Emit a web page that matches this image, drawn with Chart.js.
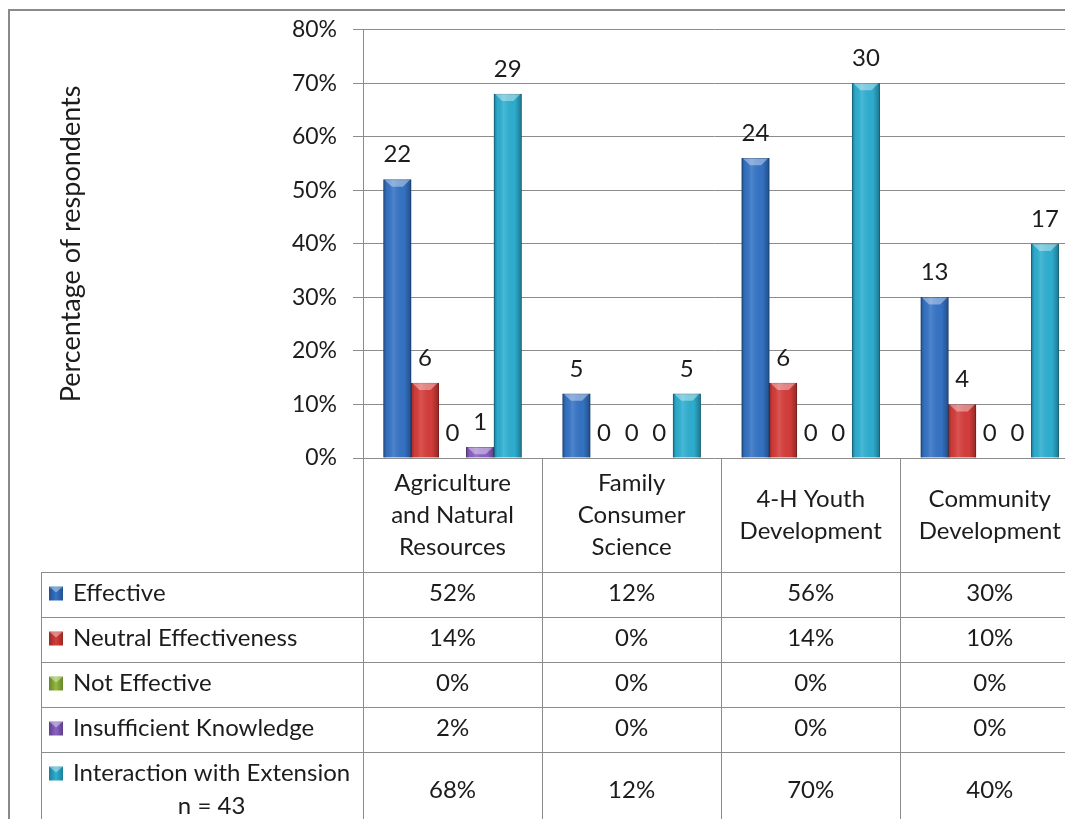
<!DOCTYPE html>
<html>
<head>
<meta charset="utf-8">
<script src="https://cdn.jsdelivr.net/npm/chart.js@4.4.1/dist/chart.umd.min.js"></script>
<style>
    html, body { margin: 0; padding: 0; background: #fff; overflow: hidden; }
    #graf1 { display: block; }
</style>
</head>
<body>
<canvas id="graf1" width="1065" height="819"></canvas>
<script>
// program areas (multi-line labels for the table header)
var categories = [
    ['Agriculture', 'and Natural', 'Resources'],
    ['Family', 'Consumer', 'Science'],
    ['4-H Youth', 'Development'],
    ['Community', 'Development']
];

// percentage of respondents
var effective     = [52, 12, 56, 30];
var neutral       = [14, 0, 14, 10];
var not_effective = [0, 0, 0, 0];
var insufficient  = [2, 0, 0, 0];
var interaction   = [68, 12, 70, 40];

// number of respondents, shown above the bars
var effective_n     = [22, 5, 24, 13];
var neutral_n       = [6, 0, 6, 4];
var not_effective_n = [0, 0, 0, 0];
var insufficient_n  = [1, 0, 0, 0];
var interaction_n   = [29, 5, 30, 17];

var y_max = 80;
var y_step = 10;

var FONT = 'Lato';
var TEXT = '#1c1c1c';
var LINE = '#8c8c8c';

function font(size) {
    return size + 'px ' + FONT;
}

// darker edges + light bevel on the top of every bar
var barShade = {
    id: 'barShade',
    afterDatasetsDraw: function (chart) {
        var ctx = chart.ctx;
        ctx.save();
        chart.data.datasets.forEach(function (ds, i) {
            chart.getDatasetMeta(i).data.forEach(function (bar) {
                var p = bar.getProps(['x', 'y', 'base', 'width'], true);
                var h = p.base - p.y;
                if (h < 1) return;
                var l = p.x - p.width / 2, r = p.x + p.width / 2;
                var g = ctx.createLinearGradient(l, 0, r, 0);
                g.addColorStop(0, 'rgba(0,0,0,0.30)');
                g.addColorStop(0.12, 'rgba(0,0,0,0.04)');
                g.addColorStop(0.35, 'rgba(255,255,255,0.12)');
                g.addColorStop(0.75, 'rgba(0,0,0,0.02)');
                g.addColorStop(1, 'rgba(0,0,0,0.32)');
                ctx.fillStyle = g;
                ctx.fillRect(l, p.y, p.width, h);
                var b = Math.min(7, h);
                ctx.beginPath();
                ctx.moveTo(l + 1, p.y);
                ctx.lineTo(r - 1, p.y);
                ctx.lineTo(r - p.width * 0.3, p.y + b);
                ctx.lineTo(l + p.width * 0.3, p.y + b);
                ctx.closePath();
                ctx.fillStyle = 'rgba(255,255,255,0.38)';
                ctx.fill();
            });
        });
        ctx.restore();
    }
};

// counts above the bars
var countLabels = {
    id: 'countLabels',
    afterDatasetsDraw: function (chart) {
        var ctx = chart.ctx;
        ctx.save();
        ctx.font = font(24);
        ctx.fillStyle = TEXT;
        ctx.textAlign = 'center';
        ctx.textBaseline = 'middle';
        chart.data.datasets.forEach(function (ds, i) {
            chart.getDatasetMeta(i).data.forEach(function (bar, j) {
                ctx.fillText(String(ds.counts[j]), bar.x, bar.y - 25);
            });
        });
        ctx.restore();
    }
};

// data table under the plot, plus the outer frame
var dataTable = {
    id: 'dataTable',
    afterDraw: function (chart) {
        var ctx = chart.ctx;
        var area = chart.chartArea;
        var x = chart.scales.x;
        var headTop = area.bottom;
        var headBot = headTop + 114;
        var rowH = 45, lastH = 78;
        var tableLeft = 41;
        var sets = chart.data.datasets;

        var rowTops = [];
        var yy = headBot;
        sets.forEach(function (ds, i) {
            rowTops.push(yy);
            yy += (i === sets.length - 1) ? lastH : rowH;
        });
        var tableBot = yy;

        ctx.save();
        ctx.strokeStyle = LINE;
        ctx.lineWidth = 1;
        ctx.beginPath();
        // horizontal lines
        rowTops.concat([tableBot]).forEach(function (t) {
            ctx.moveTo(tableLeft, Math.round(t) + 0.5);
            ctx.lineTo(chart.width, Math.round(t) + 0.5);
        });
        // vertical lines
        ctx.moveTo(tableLeft + 0.5, headBot);
        ctx.lineTo(tableLeft + 0.5, tableBot);
        for (var c = 0; c <= categories.length; c++) {
            var vx = Math.round(x.getPixelForValue(c - 0.5)) + 0.5;
            ctx.moveTo(vx, headTop);
            ctx.lineTo(vx, tableBot);
        }
        ctx.stroke();

        ctx.fillStyle = TEXT;
        ctx.font = font(24);
        ctx.textAlign = 'center';
        ctx.textBaseline = 'middle';

        // header
        var lh = 32;
        categories.forEach(function (lines, c) {
            var cx = x.getPixelForValue(c);
            var cy = (headTop + headBot) / 2 - (lines.length - 1) * lh / 2;
            lines.forEach(function (s, k) {
                ctx.fillText(s, cx, cy + k * lh);
            });
        });

        // rows
        sets.forEach(function (ds, i) {
            var top = rowTops[i];
            var h = (i === sets.length - 1) ? lastH : rowH;
            var mid = top + h / 2 - 1;
            var lines = ds.label.split('\n');
            var tx = 73;
            var lh2 = 33;
            var y0 = mid - (lines.length - 1) * lh2 / 2;

            ctx.textAlign = 'left';
            var w = 0;
            lines.forEach(function (s) { w = Math.max(w, ctx.measureText(s).width); });
            lines.forEach(function (s, k) {
                var sw = ctx.measureText(s).width;
                ctx.fillText(s, tx + (w - sw) / 2, y0 + k * lh2);
            });

            // legend key
            var ky = y0 - 7;
            var kg = ctx.createLinearGradient(49, 0, 63, 0);
            kg.addColorStop(0, ds.borderColor);
            kg.addColorStop(0.5, ds.backgroundColor);
            kg.addColorStop(1, ds.borderColor);
            ctx.fillStyle = kg;
            ctx.fillRect(49, ky, 14, 14);
            ctx.beginPath();
            ctx.moveTo(49, ky);
            ctx.lineTo(63, ky);
            ctx.lineTo(56, ky + 6);
            ctx.closePath();
            ctx.fillStyle = 'rgba(255,255,255,0.4)';
            ctx.fill();

            ctx.fillStyle = TEXT;
            ctx.textAlign = 'center';
            ds.data.forEach(function (v, j) {
                ctx.fillText(v + '%', x.getPixelForValue(j), mid);
            });
        });

        // chart frame (runs off the right and bottom edges)
        ctx.strokeStyle = '#8a8a8a';
        ctx.lineWidth = 2;
        ctx.strokeRect(9, 10, chart.width + 20, chart.height + 20);
        ctx.restore();
    }
};

var graf1 = new Chart(document.getElementById('graf1'), {
    type: 'bar',
    data: {
        // numeric positions 0..3, one per program area
        labels: categories.map(function (c, i) { return i; }),
        datasets: [{
            label: 'Effective',
            data: effective,
            counts: effective_n,
            backgroundColor: '#3574c6',
            borderColor: '#22508f'
        }, {
            label: 'Neutral Effectiveness',
            data: neutral,
            counts: neutral_n,
            backgroundColor: '#d63d3a',
            borderColor: '#9a2926'
        }, {
            label: 'Not Effective',
            data: not_effective,
            counts: not_effective_n,
            backgroundColor: '#93ba3e',
            borderColor: '#65862a'
        }, {
            label: 'Insufficient Knowledge',
            data: insufficient,
            counts: insufficient_n,
            backgroundColor: '#8c62c4',
            borderColor: '#5f3f8c'
        }, {
            label: 'Interaction with Extension\nn = 43',
            data: interaction,
            counts: interaction_n,
            backgroundColor: '#2eb0d2',
            borderColor: '#1b7f9a'
        }]
    },
    options: {
        responsive: false,
        animation: false,
        devicePixelRatio: 1,
        layout: { padding: { left: 53, top: 25, right: 0, bottom: 361 } },
        datasets: {
            bar: { barThickness: 27.6, borderWidth: 1 }
        },
        plugins: {
            legend: { display: false },
            tooltip: { enabled: false }
        },
        scales: {
            x: {
                type: 'linear',
                display: false,
                offset: false,
                // last column is cut by the right edge
                min: -0.5,
                max: 3.42,
                grid: { display: false }
            },
            y: {
                min: 0,
                max: y_max,
                afterFit: function (scale) { scale.width = 310; },
                ticks: {
                    stepSize: y_step,
                    padding: 16,
                    color: TEXT,
                    font: { family: FONT, size: 23 },
                    callback: function (v) { return v + '%'; }
                },
                grid: { color: LINE, tickLength: 10, lineWidth: 1 },
                border: { display: true, color: LINE },
                title: {
                    display: true,
                    text: 'Percentage of respondents',
                    color: TEXT,
                    padding: { top: 2, bottom: 2 },
                    font: { family: FONT, size: 27 }
                }
            }
        }
    },
    plugins: [barShade, countLabels, dataTable]
});
</script>
</body>
</html>
